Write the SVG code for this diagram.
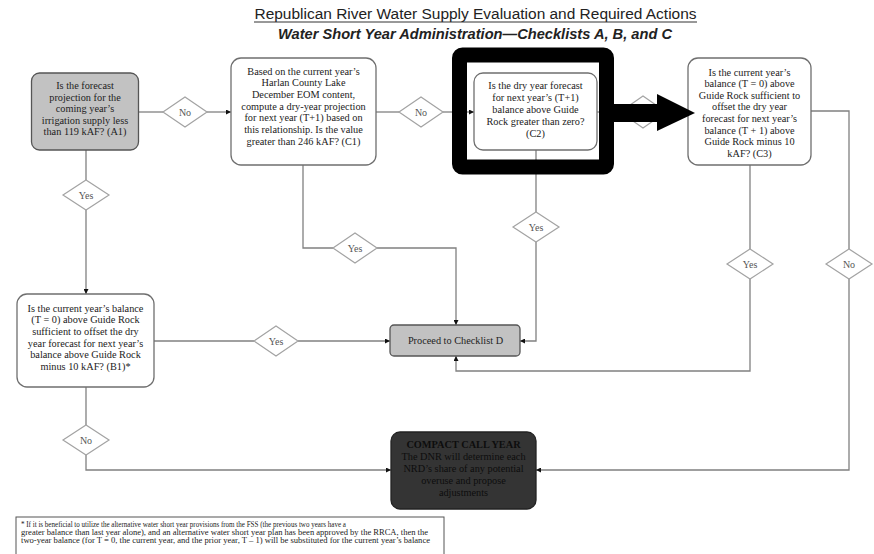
<svg xmlns="http://www.w3.org/2000/svg" width="874" height="554" viewBox="0 0 874 554">
<style>
.bg{fill:#ffffff}
.node{fill:#ffffff;stroke:#6f6f6f;stroke-width:1.3}
.grey{fill:#c2c2c2;stroke:#555555;stroke-width:1.3}
.dark{fill:#343434;stroke:#222222;stroke-width:1.3}
.t{font-family:"Liberation Serif","Times New Roman",serif;font-size:10.3px;fill:#222222;text-anchor:middle}
.dt{font-family:"Liberation Serif","Times New Roman",serif;font-size:10.3px;fill:#0d0d0d;text-anchor:middle}
.dia{fill:#ffffff;stroke:#a3a3a3;stroke-width:1.2}
.dl{font-family:"Liberation Serif","Times New Roman",serif;font-size:10px;fill:#555555;text-anchor:middle}
.c{fill:none;stroke:#808080;stroke-width:1.3}
.title{font-family:"Liberation Sans",Arial,sans-serif;font-size:14px;fill:#222222;text-anchor:middle}
.fn{font-family:"Liberation Serif","Times New Roman",serif;font-size:8px;fill:#222222}
</style>
<defs>
<marker id="ah" viewBox="0 0 10 10" refX="10" refY="5" markerWidth="5" markerHeight="5" markerUnits="userSpaceOnUse" orient="auto">
<path d="M0,0 L10,5 L0,10 Z" fill="#111111"/>
</marker>
</defs>
<rect class="bg" x="0" y="0" width="874" height="554"/>

<g id="title">
<text class="title" x="475.5" y="19" textLength="442" lengthAdjust="spacingAndGlyphs">Republican River Water Supply Evaluation and Required Actions</text>
<line x1="254" y1="22" x2="697" y2="22" stroke="#333333" stroke-width="1"/>
<text class="title" x="475" y="39" font-weight="bold" font-style="italic" textLength="394" lengthAdjust="spacingAndGlyphs">Water Short Year Administration—Checklists A, B, and C</text>
</g>

<g id="connectors">
<line class="c" x1="139" y1="112" x2="163" y2="112"/>
<line class="c" x1="207" y1="112" x2="231" y2="112" marker-end="url(#ah)"/>
<line class="c" x1="376" y1="112" x2="399" y2="112"/>
<line class="c" x1="443" y1="112" x2="474" y2="112" marker-end="url(#ah)"/>
<line class="c" x1="597" y1="112" x2="620" y2="112"/>
<line class="c" x1="666" y1="112" x2="688" y2="112" marker-end="url(#ah)"/>
<line class="c" x1="86" y1="150" x2="86" y2="180"/>
<line class="c" x1="86" y1="210" x2="86" y2="294" marker-end="url(#ah)"/>
<polyline class="c" points="303,165 303,248 333,248"/>
<polyline class="c" points="377,248 456,248 456,325" marker-end="url(#ah)"/>
<line class="c" x1="154" y1="341" x2="254" y2="341"/>
<line class="c" x1="298" y1="341" x2="390" y2="341" marker-end="url(#ah)"/>
<line class="c" x1="536" y1="150" x2="536" y2="212"/>
<polyline class="c" points="536,242 536,341 520,341" marker-end="url(#ah)"/>
<line class="c" x1="750" y1="165" x2="750" y2="249"/>
<polyline class="c" points="750,279 750,371 456,371 456,356" marker-end="url(#ah)"/>
<polyline class="c" points="811,111 849,111 849,249"/>
<polyline class="c" points="849,279 849,470 536,470" marker-end="url(#ah)"/>
<line class="c" x1="86" y1="387" x2="86" y2="425"/>
<polyline class="c" points="86,455 86,470 391,470" marker-end="url(#ah)"/>
</g>

<g id="d-no-a1">
<polygon class="dia" points="163,112 185,97 207,112 185,127"/>
<text class="dl" x="185" y="115.5">No</text>
</g>
<g id="d-no-c1">
<polygon class="dia" points="399,112 421,97 443,112 421,127"/>
<text class="dl" x="421" y="115.5">No</text>
</g>
<g id="d-no-c2">
<polygon class="dia" points="620,112 643,96 666,112 643,128"/>
</g>
<g id="d-yes-a1">
<polygon class="dia" points="63,195 86,180 109,195 86,210"/>
<text class="dl" x="86" y="198.5">Yes</text>
</g>
<g id="d-yes-c1">
<polygon class="dia" points="333,248 355,233 377,248 355,263"/>
<text class="dl" x="355" y="251.5">Yes</text>
</g>
<g id="d-yes-b1">
<polygon class="dia" points="254,341 276,326 298,341 276,356"/>
<text class="dl" x="276" y="344.5">Yes</text>
</g>
<g id="d-yes-c2">
<polygon class="dia" points="513,227 536,212 559,227 536,242"/>
<text class="dl" x="536" y="230.5">Yes</text>
</g>
<g id="d-yes-c3">
<polygon class="dia" points="727,264 750,249 773,264 750,279"/>
<text class="dl" x="750" y="267.5">Yes</text>
</g>
<g id="d-no-c3">
<polygon class="dia" points="826,264 849,249 872,264 849,279"/>
<text class="dl" x="849" y="267.5">No</text>
</g>
<g id="d-no-b1">
<polygon class="dia" points="63,440 86,425 109,440 86,455"/>
<text class="dl" x="86" y="443.5">No</text>
</g>

<g id="A1">
<rect class="grey" x="31.5" y="73" width="107" height="77" rx="8"/>
<text class="t" x="85" y="89">Is the forecast</text>
<text class="t" x="85" y="100.6">projection for the</text>
<text class="t" x="85" y="112.2">coming year’s</text>
<text class="t" x="85" y="123.8">irrigation supply less</text>
<text class="t" x="85" y="135.4">than 119 kAF? (A1)</text>
</g>

<g id="C1">
<rect class="node" x="231" y="58" width="145" height="107" rx="10"/>
<text class="t" x="303.5" y="74.5">Based on the current year’s</text>
<text class="t" x="303.5" y="86.2">Harlan County Lake</text>
<text class="t" x="303.5" y="97.9">December EOM content,</text>
<text class="t" x="303.5" y="109.6">compute a dry-year projection</text>
<text class="t" x="303.5" y="121.3">for next year (T+1) based on</text>
<text class="t" x="303.5" y="133">this relationship. Is the value</text>
<text class="t" x="303.5" y="145">greater than 246 kAF? (C1)</text>
</g>

<g id="C2">
<rect class="node" x="474" y="73" width="123" height="77" rx="9"/>
<text class="t" x="535.5" y="88.5">Is the dry year forecast</text>
<text class="t" x="535.5" y="100.5">for next year’s (T+1)</text>
<text class="t" x="535.5" y="112.5">balance above Guide</text>
<text class="t" x="535.5" y="124.8">Rock greater than zero?</text>
<text class="t" x="535.5" y="136.5">(C2)</text>
</g>

<g id="C3">
<rect class="node" x="688" y="58" width="123" height="107" rx="10"/>
<text class="t" x="749.5" y="75.5">Is the current year’s</text>
<text class="t" x="749.5" y="87">balance (T = 0) above</text>
<text class="t" x="749.5" y="98.6">Guide Rock sufficient to</text>
<text class="t" x="749.5" y="110.4">offset the dry year</text>
<text class="t" x="749.5" y="122.1">forecast for next year’s</text>
<text class="t" x="749.5" y="133.7">balance (T + 1) above</text>
<text class="t" x="749.5" y="145.3">Guide Rock minus 10</text>
<text class="t" x="749.5" y="157">kAF? (C3)</text>
</g>

<g id="B1">
<rect class="node" x="17" y="294" width="137" height="93" rx="10"/>
<text class="t" x="85.5" y="311.5">Is the current year’s balance</text>
<text class="t" x="85.5" y="323.2">(T = 0) above Guide Rock</text>
<text class="t" x="85.5" y="334.9">sufficient to offset the dry</text>
<text class="t" x="85.5" y="346.6">year forecast for next year’s</text>
<text class="t" x="85.5" y="358.3">balance above Guide Rock</text>
<text class="t" x="85.5" y="370">minus 10 kAF? (B1)*</text>
</g>

<g id="proceed">
<rect class="grey" x="390" y="325" width="130" height="31" rx="4"/>
<text class="t" x="455.5" y="343.5">Proceed to Checklist D</text>
</g>

<g id="compact">
<rect class="dark" x="391" y="432" width="145" height="77" rx="9"/>
<text class="dt" x="463.5" y="448" font-weight="bold">COMPACT CALL YEAR</text>
<text class="dt" x="463.5" y="460">The DNR will determine each</text>
<text class="dt" x="463.5" y="472">NRD’s share of any potential</text>
<text class="dt" x="463.5" y="484">overuse and propose</text>
<text class="dt" x="463.5" y="496">adjustments</text>
</g>

<g id="highlight">
<rect x="459.5" y="55" width="147" height="112" rx="3" fill="none" stroke="#000000" stroke-width="15"/>
<rect x="614" y="104" width="45" height="18" fill="#000000"/>
<polygon points="657,94 695,113 657,131" fill="#000000"/>
</g>

<g id="footnote">
<rect x="16" y="517" width="428" height="50" fill="#ffffff" stroke="#555555" stroke-width="1"/>
<text class="fn" x="21" y="527" textLength="325" lengthAdjust="spacingAndGlyphs">* If it is beneficial to utilize the alternative water short year provisions from the FSS (the previous two years have a</text>
<text class="fn" x="21" y="535" textLength="407" lengthAdjust="spacingAndGlyphs">greater balance than last year alone), and an alternative water short year plan has been approved by the RRCA, then the</text>
<text class="fn" x="21" y="543" textLength="409" lengthAdjust="spacingAndGlyphs">two-year balance (for T = 0, the current year, and the prior year, T – 1) will be substituted for the current year’s balance</text>
</g>
</svg>
